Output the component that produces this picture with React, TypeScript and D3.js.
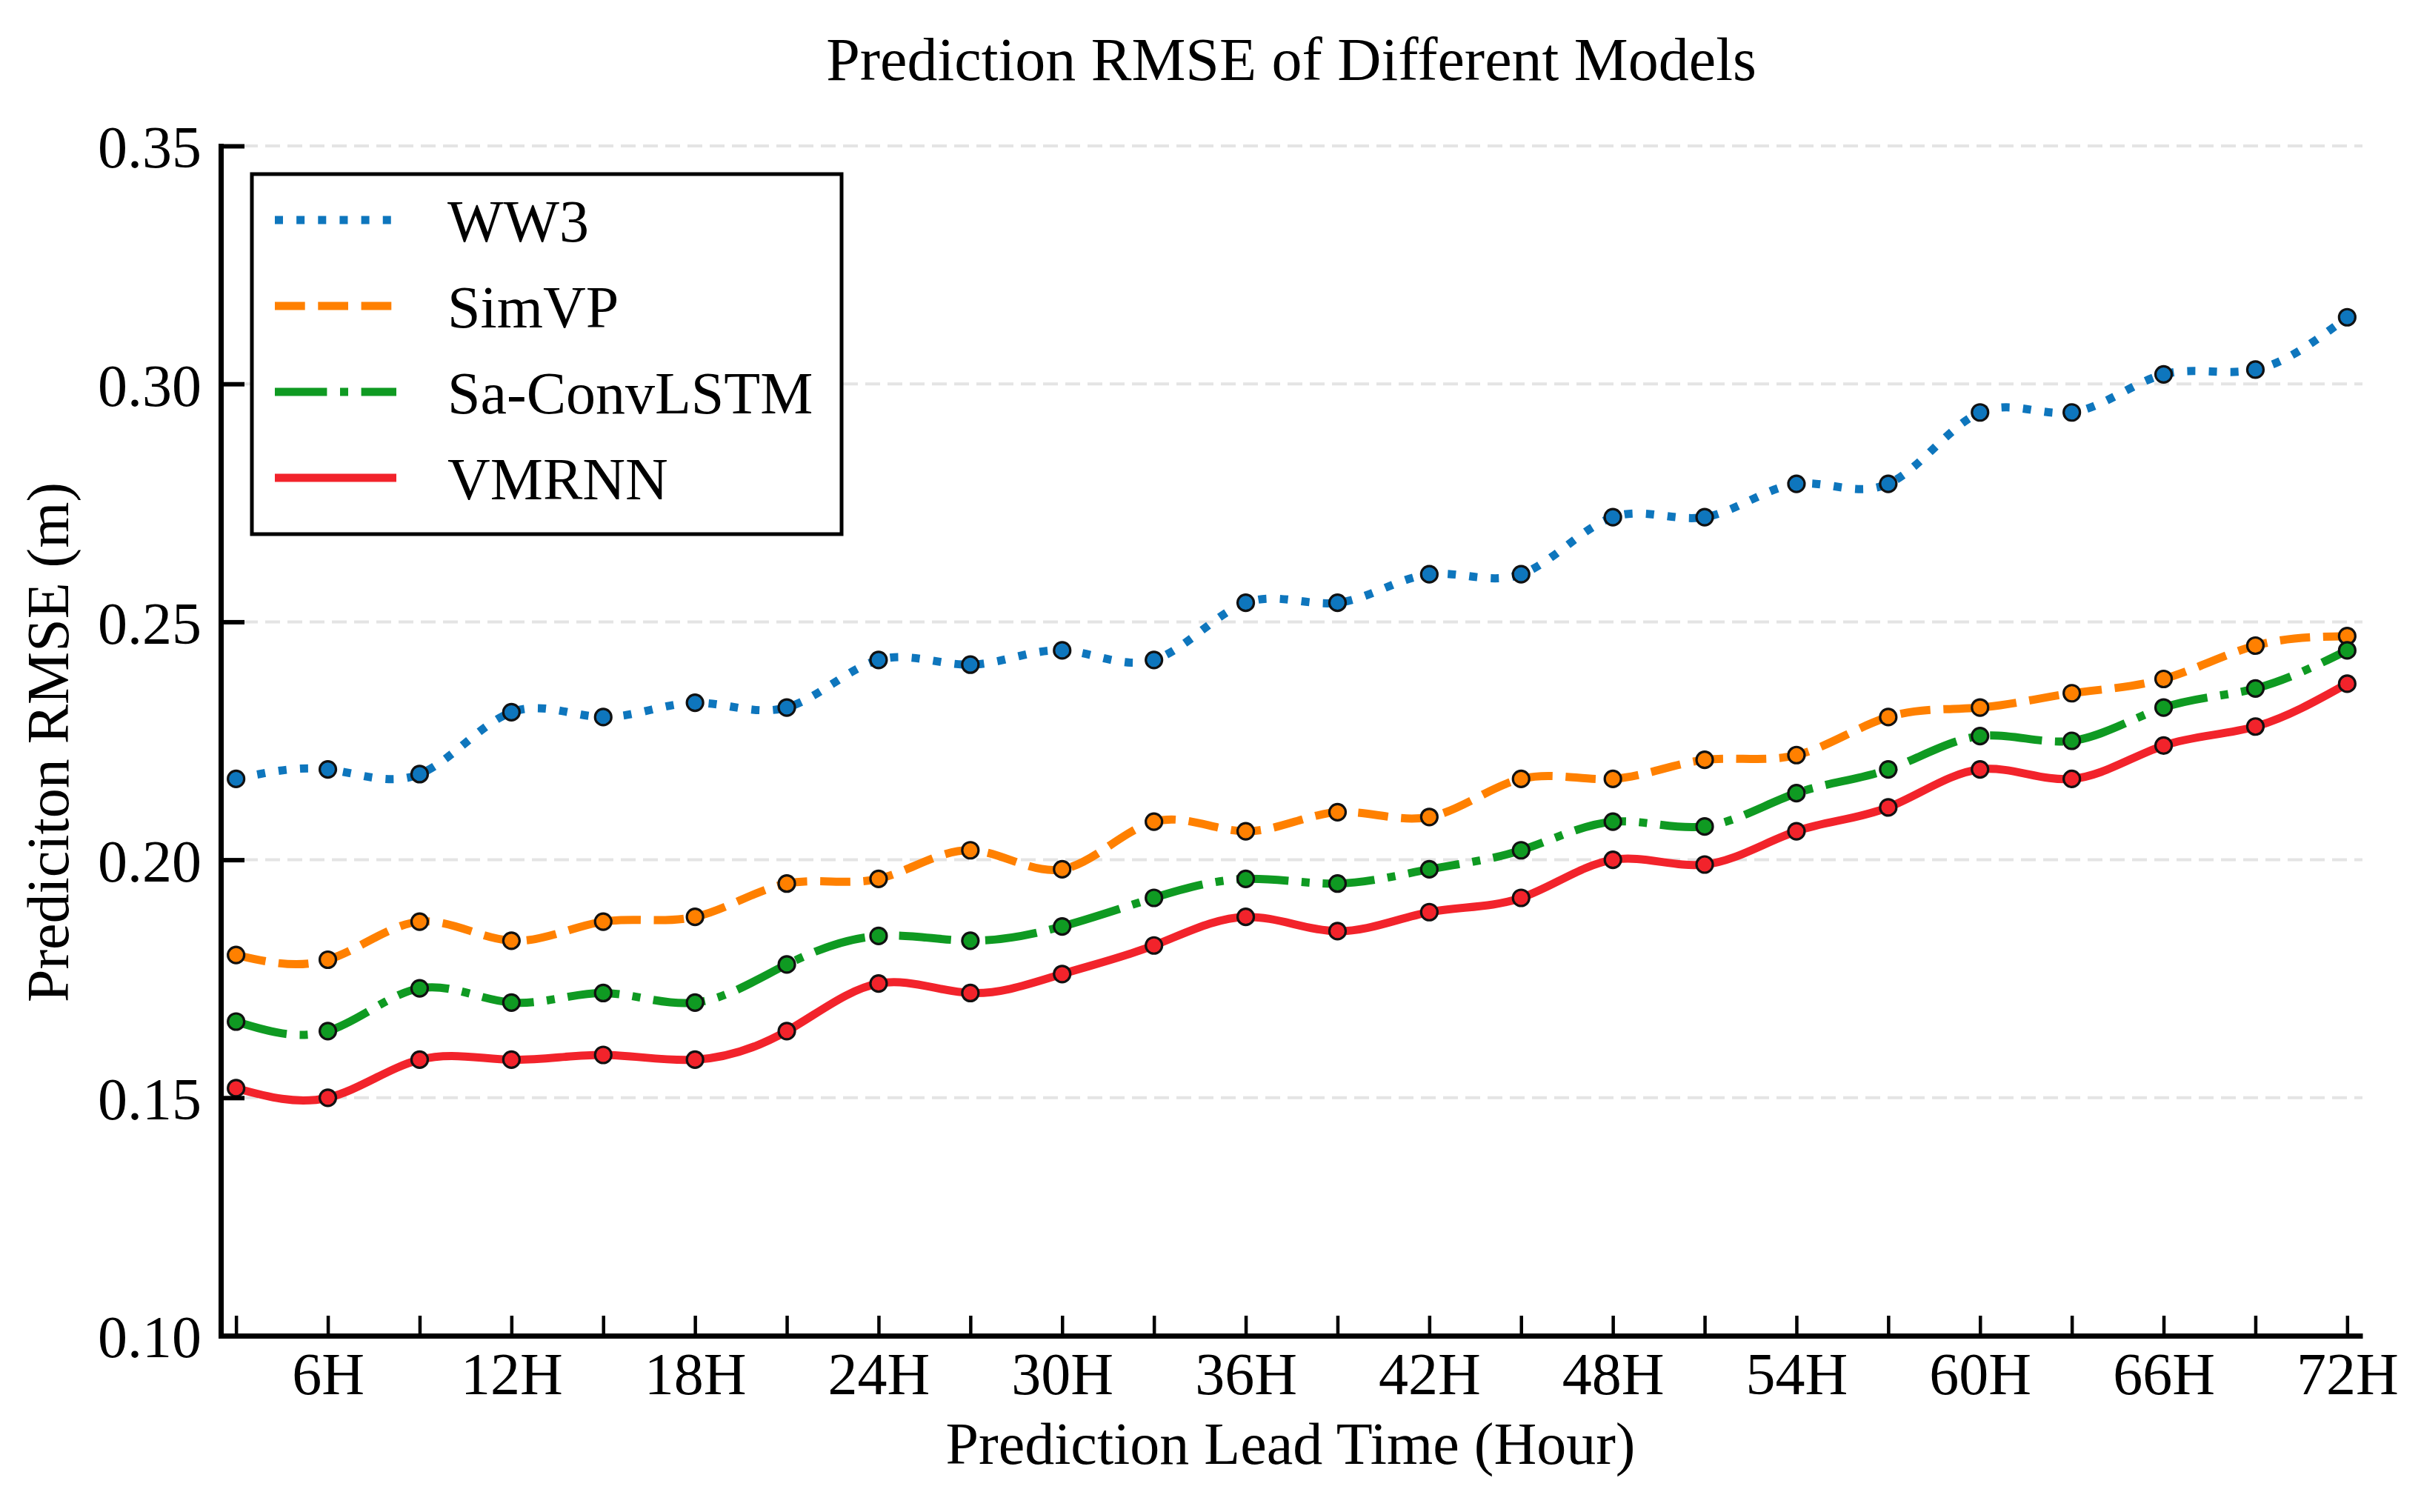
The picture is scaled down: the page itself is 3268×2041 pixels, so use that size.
import React, { useEffect, useRef } from "react";
import * as d3 from "d3";

const WIDTH = 3268;
const HEIGHT = 2041;

// lead time (hours), one point every 3H
const hours = [3, 6, 9, 12, 15, 18, 21, 24, 27, 30, 33, 36, 39, 42, 45, 48, 51, 54, 57, 60, 63, 66, 69, 72];

const ww3 = [0.217, 0.219, 0.218, 0.231, 0.230, 0.233, 0.232, 0.242, 0.241, 0.244, 0.242, 0.254,
  0.254, 0.260, 0.260, 0.272, 0.272, 0.279, 0.279, 0.294, 0.294, 0.302, 0.303, 0.314];
const simvp = [0.180, 0.179, 0.187, 0.183, 0.187, 0.188, 0.195, 0.196, 0.202, 0.198, 0.208, 0.206,
  0.210, 0.209, 0.217, 0.217, 0.221, 0.222, 0.230, 0.232, 0.235, 0.238, 0.245, 0.247];
const saConvLstm = [0.166, 0.164, 0.173, 0.170, 0.172, 0.170, 0.178, 0.184, 0.183, 0.186, 0.192, 0.196,
  0.195, 0.198, 0.202, 0.208, 0.207, 0.214, 0.219, 0.226, 0.225, 0.232, 0.236, 0.244];
const vmrnn = [0.152, 0.150, 0.158, 0.158, 0.159, 0.158, 0.164, 0.174, 0.172, 0.176, 0.182, 0.188,
  0.185, 0.189, 0.192, 0.200, 0.199, 0.206, 0.211, 0.219, 0.217, 0.224, 0.228, 0.237];

const seriesNames = ["WW3", "SimVP", "Sa-ConvLSTM", "VMRNN"];
const seriesValues = [ww3, simvp, saConvLstm, vmrnn];
const seriesColors = ["#0e76bd", "#ff8000", "#0f9a22", "#f2232b"];

const yTicks = [0.1, 0.15, 0.2, 0.25, 0.3, 0.35];

const LW = 11;
const dashes = [
  `${LW} ${LW * 1.65}`,
  `${LW * 3.7} ${LW * 1.6}`,
  `${LW * 6.4} ${LW * 1.6} ${LW} ${LW * 1.6}`,
  null,
];

const FONT = "'Liberation Serif', 'Times New Roman', Times, serif";

const RmseChart = () => {
  const svgRef = useRef(null);

  useEffect(() => {
    const svg = d3.select(svgRef.current);
    svg.selectAll("*").remove();

    const x = d3.scaleLinear().domain([2.5, 72.5]).range([298, 3189]);
    const y = d3.scaleLinear().domain([0.1, 0.35]).range([1803, 197]);

    // title
    svg.append("text")
      .attr("x", 1743)
      .attr("y", 108)
      .attr("text-anchor", "middle")
      .attr("font-family", FONT)
      .attr("font-size", 82)
      .text("Prediction RMSE of Different Models");

    // dashed grid
    svg.append("g")
      .selectAll("line")
      .data(yTicks.filter((t) => t > 0.1))
      .join("line")
      .attr("x1", x.range()[0])
      .attr("x2", x.range()[1])
      .attr("y1", (d) => y(d))
      .attr("y2", (d) => y(d))
      .attr("stroke", "#e4e4e4")
      .attr("stroke-width", 4)
      .attr("stroke-dasharray", "20 10");

    const line = d3.line()
      .x((d, i) => x(hours[i]))
      .y((d) => y(d))
      .curve(d3.curveNatural);

    seriesValues.forEach((vals, k) => {
      const g = svg.append("g");
      g.append("path")
        .attr("d", line(vals))
        .attr("fill", "none")
        .attr("stroke", seriesColors[k])
        .attr("stroke-width", LW)
        .attr("stroke-dasharray", dashes[k])
        .attr("stroke-linejoin", "round");
      g.selectAll("circle")
        .data(vals)
        .join("circle")
        .attr("cx", (d, i) => x(hours[i]))
        .attr("cy", (d) => y(d))
        .attr("r", 11)
        .attr("fill", seriesColors[k])
        .attr("stroke", "#111")
        .attr("stroke-width", 3.2);
    });

    // x axis (ticks inward)
    const xAxis = svg.append("g")
      .attr("transform", `translate(0, ${y(0.1)})`)
      .call(
        d3.axisBottom(x)
          .tickValues(hours)
          .tickSizeInner(-27)
          .tickSizeOuter(0)
          .tickPadding(22)
          .tickFormat((d) => (d % 6 === 0 ? `${d}H` : ""))
      );
    xAxis.select(".domain").attr("stroke", "#000").attr("stroke-width", 7);
    xAxis.selectAll(".tick line").attr("stroke", "#000").attr("stroke-width", 4.5);
    xAxis.selectAll(".tick text")
      .attr("font-family", FONT)
      .attr("font-size", 80)
      .attr("fill", "#000");

    // y axis (ticks inward)
    const yAxis = svg.append("g")
      .attr("transform", `translate(${x.range()[0]}, 0)`)
      .call(
        d3.axisLeft(y)
          .tickValues(yTicks)
          .tickSizeInner(-32)
          .tickSizeOuter(0)
          .tickPadding(26)
          .tickFormat(d3.format(".2f"))
      );
    yAxis.select(".domain")
      .attr("stroke", "#000")
      .attr("stroke-width", 7)
      .attr("stroke-linecap", "square");
    yAxis.selectAll(".tick line").attr("stroke", "#000").attr("stroke-width", 6);
    yAxis.selectAll(".tick text")
      .attr("font-family", FONT)
      .attr("font-size", 80)
      .attr("dy", "0.36em")
      .attr("fill", "#000");

    // axis labels
    svg.append("text")
      .attr("x", 1742)
      .attr("y", 1976)
      .attr("text-anchor", "middle")
      .attr("font-family", FONT)
      .attr("font-size", 80)
      .text("Prediction Lead Time (Hour)");

    svg.append("text")
      .attr("transform", "translate(92, 1002) rotate(-90)")
      .attr("text-anchor", "middle")
      .attr("font-family", FONT)
      .attr("font-size", 80)
      .text("Prediciton RMSE (m)");

    // legend
    const legend = svg.append("g");
    legend.append("rect")
      .attr("x", 340)
      .attr("y", 235)
      .attr("width", 796)
      .attr("height", 486)
      .attr("fill", "#fff")
      .attr("stroke", "#000")
      .attr("stroke-width", 5);

    const rows = legend.selectAll("g.row")
      .data(seriesNames)
      .join("g")
      .attr("class", "row")
      .attr("transform", (d, i) => `translate(0, ${297 + i * 116})`);
    rows.append("line")
      .attr("x1", 371)
      .attr("x2", 535)
      .attr("stroke", (d, i) => seriesColors[i])
      .attr("stroke-width", LW)
      .attr("stroke-dasharray", (d, i) => dashes[i]);
    rows.append("text")
      .attr("x", 604)
      .attr("y", 29)
      .attr("font-family", FONT)
      .attr("font-size", 80)
      .text((d) => d);
  }, []);

  return (
    <svg
      ref={svgRef}
      width={WIDTH}
      height={HEIGHT}
      style={{ position: "absolute", left: 0, top: 0, display: "block", background: "#fff" }}
    />
  );
};

export default function App() {
  return <RmseChart />;
}
